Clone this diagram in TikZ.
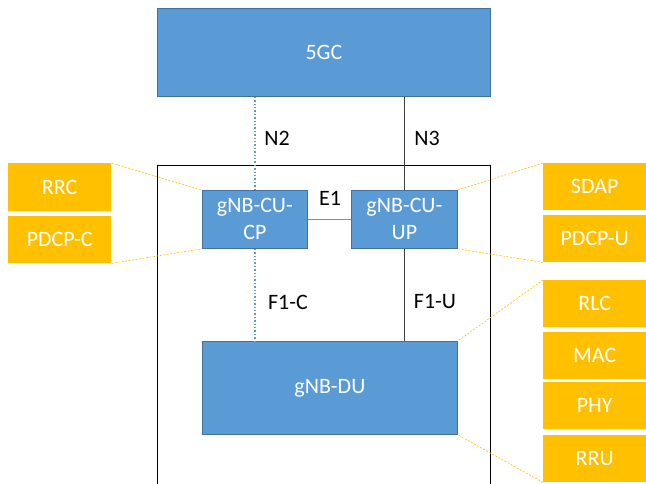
\documentclass[tikz,border=0pt]{standalone}
\usepackage{fontspec}
\setmainfont{Carlito}
\usetikzlibrary{positioning}
\definecolor{boxblue}{HTML}{5B9BD5}
\definecolor{boxedge}{HTML}{41719C}
\definecolor{layergold}{HTML}{FFC000}
\tikzset{
  nodebox/.style={draw=boxedge,line width=0.8pt,fill=boxblue,text=white,
    anchor=north west,inner sep=0pt,align=center,font=\fontsize{22}{27}\selectfont},
  layerbox/.style={fill=layergold,text=white,anchor=north west,inner sep=0pt,
    minimum width=103pt,font=\fontsize{22}{25}\selectfont},
  iflabel/.style={font=\fontsize{22}{25}\selectfont},
  cplane/.style={boxblue,line width=1.4pt,dotted},
  uplane/.style={black!75,line width=0.8pt},
  mapline/.style={layergold,line width=0.6pt,dashed,dash pattern=on 2pt off 1.5pt}
}
\begin{document}
\begin{tikzpicture}[x=1pt,y=-1pt]
    \useasboundingbox (0,0) rectangle (646,484);
    % gNB frame, open at the bottom
    \draw[line width=1pt] (157,490)--(157,166)--(490,166)--(490,490);
    % core and gNB parts
    \node[nodebox,minimum width=333pt,minimum height=88pt] (core) at (157,8) {5GC};
    \node[nodebox,minimum width=105pt,minimum height=58pt] (cucp) at (202,190) {gNB-CU-\\CP};
    \node[nodebox,minimum width=106pt,minimum height=58pt] (cuup) at (351,190) {gNB-CU-\\UP};
    \node[nodebox,minimum width=255pt,minimum height=93pt] (du) at (202,341) {gNB-DU};
    % protocol layers
    \node[layerbox,minimum height=48pt] (rrc) at (8,163) {RRC};
    \node[layerbox,minimum height=47pt] (pdcpc) at (8,216) {PDCP-C};
    \node[layerbox,minimum height=47pt] (sdap) at (543,163) {SDAP};
    \node[layerbox,minimum height=47pt] (pdcpu) at (543,215) {PDCP-U};
    \node[layerbox,minimum height=47pt] (rlc) at (543,280) {RLC};
    \node[layerbox,minimum height=47pt] (mac) at (543,332) {MAC};
    \node[layerbox,minimum height=47pt] (phy) at (543,382) {PHY};
    \node[layerbox,minimum height=47pt] (rru) at (543,435) {RRU};
    % interfaces
    \draw[cplane] (cucp.north) -- (cucp.north |- core.south);
    \draw[uplane] (cuup.north) -- (cuup.north |- core.south);
    \draw[boxblue,line width=0.9pt] (cucp.east) -- (cuup.west);
    \draw[cplane] (cucp.south) -- (cucp.south |- du.north);
    \draw[uplane] (cuup.south) -- (cuup.south |- du.north);
    \node[iflabel] (n2) at (277,138) {N2};
    \node[iflabel] (n3) at (427,138) {N3};
    \node[iflabel] (e1) at (330,198) {E1};
    \node[iflabel] (f1c) at (288,302) {F1-C};
    \node[iflabel] (f1u) at (435,302) {F1-U};
    % layer mapping
    \draw[mapline] (rrc.north east) -- (cucp.north west);
    \draw[mapline] (pdcpc.south east) -- (cucp.south west);
    \draw[mapline] (sdap.north west) -- (cuup.north east);
    \draw[mapline] (pdcpu.south west) -- (cuup.south east);
    \draw[mapline] (rlc.north west) -- (du.north east);
    \draw[mapline] (rru.south west) -- (du.south east);
\end{tikzpicture}
\end{document}
